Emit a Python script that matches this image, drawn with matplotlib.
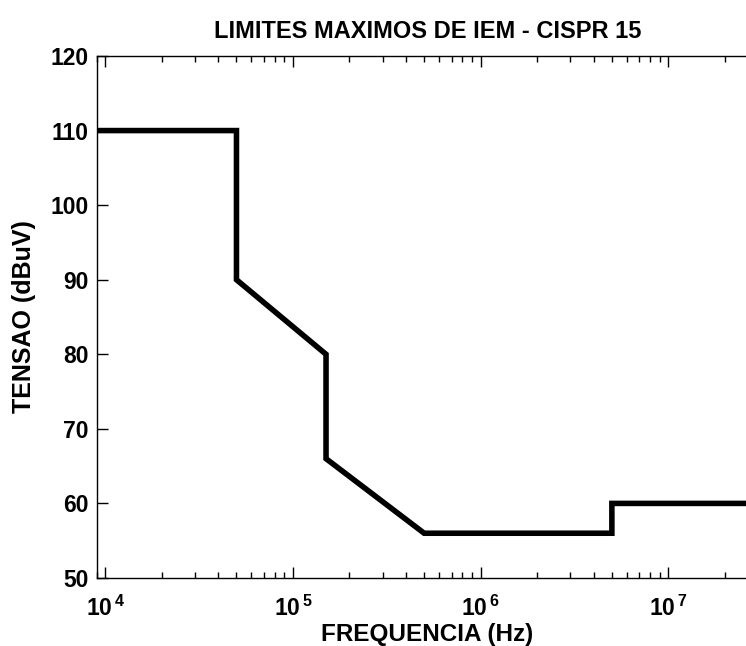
import numpy as np
import matplotlib
matplotlib.use("Agg")
import matplotlib.pyplot as plt
from matplotlib.ticker import LogLocator, FixedLocator

plt.rcParams['font.family'] = ['Liberation Sans', 'DejaVu Sans']
plt.rcParams['mathtext.fontset'] = 'custom'
plt.rcParams['mathtext.rm'] = 'Liberation Sans:bold'
plt.rcParams['mathtext.it'] = 'Liberation Sans:bold'
plt.rcParams['mathtext.bf'] = 'Liberation Sans:bold'

# CISPR 15 limit line (frequency in Hz, level in dBuV)
freq = [9e3, 5e4, 5e4, 1.5e5, 1.5e5, 5e5, 5e6, 5e6, 3e7]
level = [110, 110, 90, 80, 66, 56, 56, 60, 60]
yticks = [50, 60, 70, 80, 90, 100, 110, 120]
xticks = [1e4, 1e5, 1e6, 1e7]
xticklabels = [r'$10^{\,4}$', r'$10^{\,5}$', r'$10^{\,6}$', r'$10^{\,7}$']

fig = plt.figure(figsize=(7.46, 6.46), dpi=100)
ax = fig.add_axes([0.1296, 0.1053, 1.016 - 0.1296, 0.808])
ax.plot(freq, level, color='black', linewidth=4.0, solid_joinstyle='miter')
ax.set_xscale('log')
ax.set_xlim(9e3, 3e7)
ax.set_ylim(50, 120)
ax.set_yticks(yticks)
ax.xaxis.set_major_locator(FixedLocator(xticks))
ax.set_xticklabels(xticklabels)
ax.xaxis.set_minor_locator(LogLocator(base=10, subs=np.arange(2, 10)))
ax.xaxis.set_minor_formatter(plt.NullFormatter())
ax.tick_params(axis='both', which='both', direction='in', top=True, right=True)
ax.tick_params(axis='x', which='major', length=8, width=1, labelsize=16.5, pad=13)
ax.tick_params(axis='x', which='minor', length=4, width=1)
ax.tick_params(axis='y', which='major', length=8, width=1, labelsize=16.5, pad=6)
for lab in ax.get_yticklabels():
    lab.set_fontweight('bold')
for sp in ax.spines.values():
    sp.set_linewidth(1)
ax.set_title('LIMITES MAXIMOS DE IEM - CISPR 15', fontsize=17, fontweight='bold', pad=13)
ax.set_xlabel('FREQUENCIA (Hz)', fontsize=17.5, fontweight='bold', labelpad=1)
ax.set_ylabel('TENSAO (dBuV)', fontsize=18, fontweight='bold', labelpad=10)
fig.savefig('out.png', dpi=100)
